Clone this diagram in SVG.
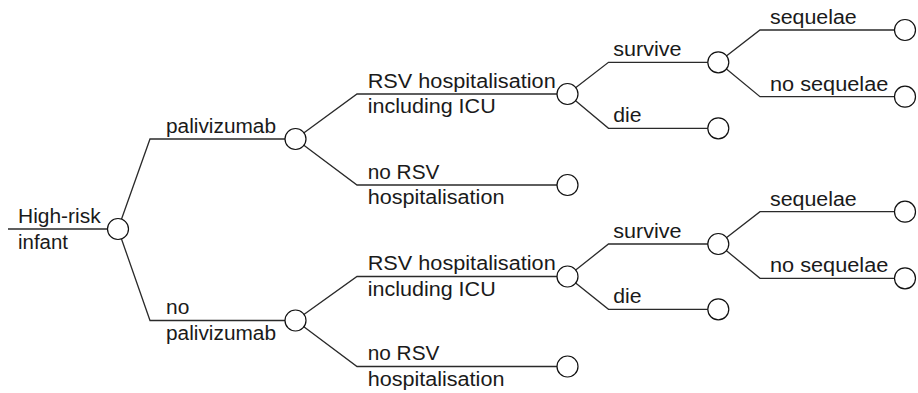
<svg xmlns="http://www.w3.org/2000/svg" width="918" height="393" viewBox="0 0 918 393">
<style>
.e{stroke:#2a2a2a;stroke-width:1.3;fill:none}
.n{fill:#fff;stroke:#111;stroke-width:1.2}
text{font-family:"Liberation Sans",Arial,sans-serif;font-size:19.5px;fill:#1a1a1a}
</style>
<rect width="918" height="393" fill="#fff"/>
<g id="connectors">
<path class="e" d="M8 229H118"/>
<path class="e" d="M118 229L150 139H295.5"/>
<path class="e" d="M118 229L150 320.5H295.5"/>
<path class="e" d="M295.5 139L357 94H567.5"/>
<path class="e" d="M295.5 139L357 185H567.5"/>
<path class="e" d="M295.5 320.5L357 276.5H567.5"/>
<path class="e" d="M295.5 320.5L357 366.5H567.5"/>
<path class="e" d="M567.5 94L608.5 62.3H718.3"/>
<path class="e" d="M567.5 94L608.5 128.3H718.3"/>
<path class="e" d="M567.5 276.5L608.5 244H718.3"/>
<path class="e" d="M567.5 276.5L608.5 309.3H718.3"/>
<path class="e" d="M718.3 62.3L760 30H905"/>
<path class="e" d="M718.3 62.3L760 96.7H905"/>
<path class="e" d="M718.3 244L760 211.7H905"/>
<path class="e" d="M718.3 244L760 278.3H905"/>
</g>
<g id="root"><circle class="n" cx="118" cy="229" r="10.5"/>
<text x="18" y="222.5" textLength="82.7" lengthAdjust="spacingAndGlyphs">High-risk</text>
<text x="18" y="248.5" textLength="50" lengthAdjust="spacingAndGlyphs">infant</text></g>
<g id="paliv"><circle class="n" cx="295.5" cy="139" r="10.5"/>
<text x="166" y="132.5" textLength="110" lengthAdjust="spacingAndGlyphs">palivizumab</text></g>
<g id="nopaliv"><circle class="n" cx="295.5" cy="320.5" r="10.5"/>
<text x="166" y="314" textLength="23.3" lengthAdjust="spacingAndGlyphs">no</text>
<text x="166" y="340" textLength="110" lengthAdjust="spacingAndGlyphs">palivizumab</text></g>
<g id="rsv1"><circle class="n" cx="567.5" cy="94" r="10.5"/>
<text x="367.7" y="87.7" textLength="188" lengthAdjust="spacingAndGlyphs">RSV hospitalisation</text>
<text x="367.7" y="113.3" textLength="128" lengthAdjust="spacingAndGlyphs">including ICU</text></g>
<g id="norsv1"><circle class="n" cx="567.5" cy="185" r="10.5"/>
<text x="367.7" y="178.7" textLength="71.7" lengthAdjust="spacingAndGlyphs">no RSV</text>
<text x="367.7" y="204.3" textLength="136.7" lengthAdjust="spacingAndGlyphs">hospitalisation</text></g>
<g id="rsv2"><circle class="n" cx="567.5" cy="276.5" r="10.5"/>
<text x="367.7" y="270.2" textLength="188" lengthAdjust="spacingAndGlyphs">RSV hospitalisation</text>
<text x="367.7" y="295.8" textLength="128" lengthAdjust="spacingAndGlyphs">including ICU</text></g>
<g id="norsv2"><circle class="n" cx="567.5" cy="366.5" r="10.5"/>
<text x="367.7" y="360.2" textLength="71.7" lengthAdjust="spacingAndGlyphs">no RSV</text>
<text x="367.7" y="385.8" textLength="136.7" lengthAdjust="spacingAndGlyphs">hospitalisation</text></g>
<g id="surv1"><circle class="n" cx="718.3" cy="62.3" r="10.5"/>
<text x="613.3" y="56" textLength="68.3" lengthAdjust="spacingAndGlyphs">survive</text></g>
<g id="die1"><circle class="n" cx="718.3" cy="128.3" r="10.5"/>
<text x="613.3" y="122" textLength="28.3" lengthAdjust="spacingAndGlyphs">die</text></g>
<g id="surv2"><circle class="n" cx="718.3" cy="244" r="10.5"/>
<text x="613.3" y="237.7" textLength="68.3" lengthAdjust="spacingAndGlyphs">survive</text></g>
<g id="die2"><circle class="n" cx="718.3" cy="309.3" r="10.5"/>
<text x="613.3" y="303" textLength="28.3" lengthAdjust="spacingAndGlyphs">die</text></g>
<g id="seq1"><circle class="n" cx="905" cy="30" r="10.5"/>
<text x="770" y="24" textLength="86.7" lengthAdjust="spacingAndGlyphs">sequelae</text></g>
<g id="noseq1"><circle class="n" cx="905" cy="96.7" r="10.5"/>
<text x="770" y="90.5" textLength="118.3" lengthAdjust="spacingAndGlyphs">no sequelae</text></g>
<g id="seq2"><circle class="n" cx="905" cy="211.7" r="10.5"/>
<text x="770" y="205.5" textLength="86.7" lengthAdjust="spacingAndGlyphs">sequelae</text></g>
<g id="noseq2"><circle class="n" cx="905" cy="278.3" r="10.5"/>
<text x="770" y="272" textLength="118.3" lengthAdjust="spacingAndGlyphs">no sequelae</text></g>
</svg>
